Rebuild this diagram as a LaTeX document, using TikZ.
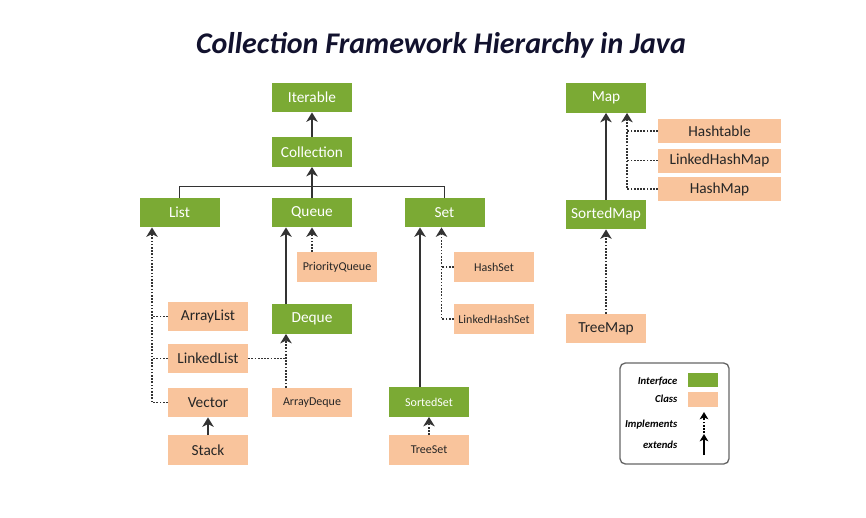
\documentclass[tikz,border=0pt]{standalone}
\usepackage{fontspec}
\setmainfont{Carlito}
\usetikzlibrary{calc,arrows.meta}
\definecolor{ifgreen}{HTML}{7BAA34}
\definecolor{clsorange}{HTML}{F9C49C}
\definecolor{linegray}{HTML}{333333}
\definecolor{titleblue}{HTML}{12122E}

\tikzset{
  iface/.style={fill=ifgreen,text=white,minimum width=60pt,minimum height=22pt,inner sep=0pt,font=\fontsize{11.5}{13}\selectfont},
  cls/.style={fill=clsorange,text=black!85,minimum width=60pt,minimum height=22pt,inner sep=0pt,font=\fontsize{11.5}{13}\selectfont},
  small/.style={font=\fontsize{9}{11}\selectfont},
  ext/.style={->,line width=1.4pt,draw=linegray},
  impl/.style={->,line width=1.4pt,draw=linegray,dash pattern=on 1.3pt off 1.1pt},
  stub/.style={line width=1.4pt,draw=linegray,dash pattern=on 1.3pt off 1.1pt},
  legtext/.style={anchor=east,font=\fontsize{8}{9}\selectfont\itshape\bfseries}
}

\begin{document}
\begin{tikzpicture}[>={Stealth[length=7pt,width=8.5pt,inset=2pt]},x=0.75pt,y=-0.75pt]
\useasboundingbox (0,0) rectangle (866,517);
\node[text=titleblue,font=\fontsize{22.5}{26}\selectfont\bfseries\itshape] (title) at (441,45) {Collection Framework Hierarchy in Java};

% collection side
\node[iface] (iter) at (312,97.5) {Iterable};
\node[iface] (coll) at (312,152) {Collection};
\node[iface] (list) at (179.5,212.5) {List};
\node[iface] (queue) at (312,212.5) {Queue};
\node[iface] (set) at (444.5,212.5) {Set};
\node[cls,small] (pqueue) at (337,267) {PriorityQueue};
\node[cls] (alist) at (208,316.5) {ArrayList};
\node[cls] (llist) at (208,358.5) {LinkedList};
\node[cls] (vector) at (208,402.5) {Vector};
\node[cls] (stack) at (208,450) {Stack};
\node[iface] (deque) at (312,319) {Deque};
\node[cls,small] (adeque) at (312,402.5) {ArrayDeque};
\node[cls,small] (hset) at (494,267) {HashSet};
\node[cls,small] (lhset) at (494,319) {LinkedHashSet};
\node[iface,small] (sset) at (429,402) {SortedSet};
\node[cls,small] (tset) at (429,450) {TreeSet};

% map side
\node[iface] (map) at (606,98) {Map};
\node[iface] (smap) at (606,214.5) {SortedMap};
\node[cls] (tmap) at (606,328.5) {TreeMap};
\node[cls,minimum width=92pt,minimum height=18pt] (htable) at (719.5,131) {Hashtable};
\node[cls,minimum width=92pt,minimum height=18pt] (lhmap) at (719.5,160.5) {LinkedHashMap};
\node[cls,minimum width=92pt,minimum height=18pt] (hmap) at (719.5,189) {HashMap};

\coordinate (bar) at (312,186.5);
\coordinate (lbus) at (152,0);
\coordinate (dqbus) at ($(deque.south)+(-26,0)$);
\coordinate (sbus) at ($(set.south)+(-3,0)$);
\coordinate (mbus) at ($(map.south)+(21,0)$);

\draw[ext] (coll) -- (iter);
\draw[line width=1.4pt,draw=linegray] (list.north) |- (bar) -| (set.north);
\draw[ext] (queue.north) -- (coll.south);

\draw[impl] (vector.west) -| (list.south -| lbus);
\draw[stub] (alist.west) -- (alist.west -| lbus);
\draw[stub] (llist.west) -- (llist.west -| lbus);
\draw[ext] (stack) -- (vector);

\draw[ext] (deque.north -| dqbus) -- (queue.south -| dqbus);
\draw[impl] (pqueue.north -| queue.south) -- (queue.south);
\draw[impl] (adeque.north -| dqbus) -- (dqbus);
\draw[stub] (llist.east) -- (llist.east -| dqbus);

\draw[ext] ($(sset.north)+(-9,0)$) -- ($(set.south)+(-24.5,0)$);
\draw[impl] (lhset.west) -| (sbus);
\draw[stub] (hset.west) -- (hset.west -| sbus);
\draw[impl] (tset) -- (sset);

\draw[ext] (smap) -- (map);
\draw[impl] (hmap.west) -| (mbus);
\draw[stub] (lhmap.west) -- (lhmap.west -| mbus);
\draw[stub] (htable.west) -- (htable.west -| mbus);
\draw[impl] (tmap) -- (smap);

% legend
\draw[rounded corners=4pt,draw=black!60,line width=1pt] (620,363) rectangle (729,464);
\node[legtext] (lif) at (682,381) {Interface};
\node[legtext] (lcl) at (682,398.5) {Class};
\node[legtext] (lim) at (682,425) {Implements};
\node[legtext] (lex) at (682,445) {extends};
\node[fill=ifgreen,minimum width=22.5pt,minimum height=10.5pt,inner sep=0pt] (gbox) at (703,380) {};
\node[fill=clsorange,minimum width=22.5pt,minimum height=11pt,inner sep=0pt] (obox) at (703,399.5) {};
\coordinate (ia) at (704,433);
\coordinate (ib) at (704,412);
\coordinate (ea) at (704,455);
\coordinate (eb) at (704,434);
\draw[impl,draw=black,>={Stealth[length=5.5pt,width=6.5pt,inset=1.5pt]}] (ia) -- (ib);
\draw[ext,draw=black,>={Stealth[length=5.5pt,width=6.5pt,inset=1.5pt]}] (ea) -- (eb);
\end{tikzpicture}
\end{document}
